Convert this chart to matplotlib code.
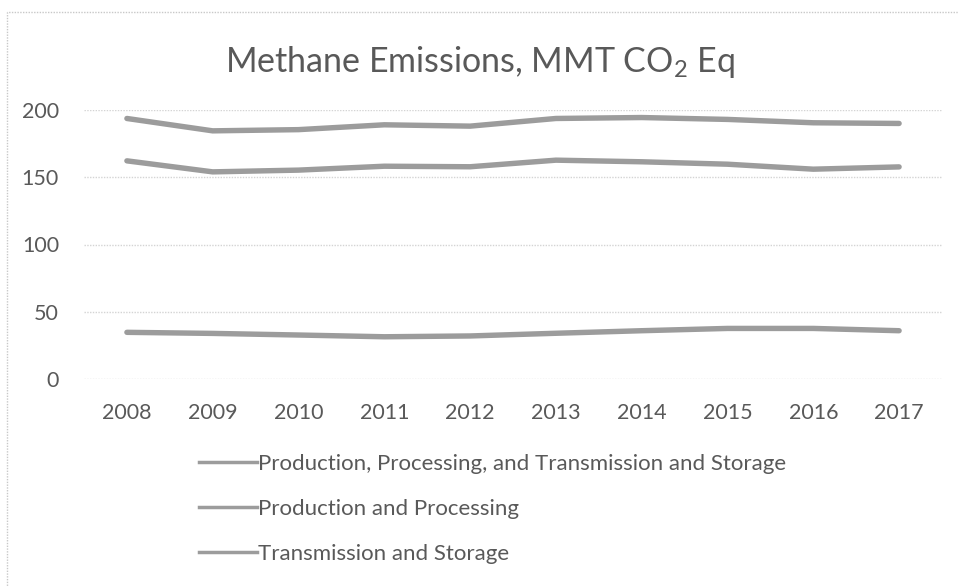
import matplotlib
matplotlib.use('Agg')
import matplotlib.pyplot as plt
from matplotlib.lines import Line2D
from matplotlib.patches import Rectangle

years = ['2008', '2009', '2010', '2011', '2012', '2013', '2014', '2015', '2016', '2017']
total = [193.7, 184.5, 185.4, 189.0, 188.0, 193.7, 194.4, 193.0, 190.5, 190.0]
prod_proc = [162.2, 154.0, 155.3, 158.2, 157.8, 162.7, 161.5, 159.7, 156.0, 157.7]
trans_stor = [34.7, 33.9, 32.7, 31.4, 32.0, 34.0, 35.9, 37.6, 37.6, 35.9]
labels = ['Production, Processing, and Transmission and Storage',
          'Production and Processing',
          'Transmission and Storage']

plt.rcParams['font.family'] = ['Lato', 'DejaVu Sans']
plt.rcParams['mathtext.fontset'] = 'custom'
plt.rcParams['mathtext.rm'] = 'Lato'
plt.rcParams['mathtext.it'] = 'Lato'

txt = '#595959'
line_col = '#9c9c9c'

fig = plt.figure(figsize=(9.59, 5.86), dpi=100)
fig.patches.append(Rectangle((7 / 959, -0.1), 1.2, 1 - 12 / 586 + 0.1,
                             transform=fig.transFigure, fill=False,
                             edgecolor='#c8c8c8', linewidth=1, linestyle=(0, (1, 1))))

ax = fig.add_axes([84 / 959, 1 - 379 / 586, (942 - 84) / 959, (379 - 110) / 586])

x = range(len(years))
for series in [total, prod_proc, trans_stor]:
    ax.plot(x, series, color=line_col, linewidth=3.9, solid_capstyle='round',
            solid_joinstyle='round')

ax.set_xlim(-0.5, len(years) - 0.5)
ax.set_ylim(0, 200)
ax.set_yticks([0, 50, 100, 150, 200])
ax.set_xticks(list(x))
ax.set_xticklabels(years)
ax.tick_params(length=0, labelsize=15.5, labelcolor=txt)
ax.tick_params(axis='y', pad=18)
ax.tick_params(axis='x', pad=17)
for s in ax.spines.values():
    s.set_visible(False)
ax.grid(axis='y', color='#d4d4d4', linewidth=1, linestyle=(0, (1, 1)))
ax.set_axisbelow(True)

fig.text(0.5, 1 - 62 / 586, 'Methane Emissions, MMT CO$_2$ Eq', ha='center', va='center',
         fontsize=24.5, color=txt)

handles = [Line2D([], [], color=line_col, linewidth=2.5) for _ in labels]
fig.legend(handles, labels, loc='upper left', bbox_to_anchor=(199 / 959, 1 - 454 / 586),
           frameon=False, fontsize=16, labelcolor=txt, handlelength=2.6,
           handletextpad=0.05, labelspacing=1.13, borderpad=0, borderaxespad=0)

fig.savefig('out.png', dpi=100)
